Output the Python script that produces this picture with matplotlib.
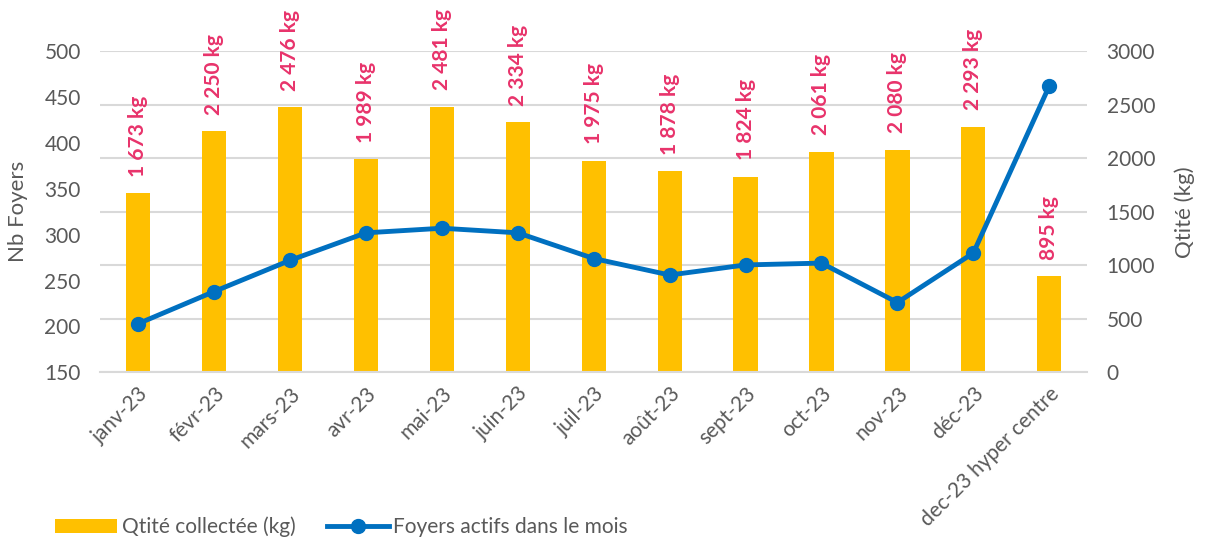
import matplotlib.pyplot as plt
import numpy as np

# données
mois = ["janv-23", "févr-23", "mars-23", "avr-23", "mai-23", "juin-23", "juil-23",
        "août-23", "sept-23", "oct-23", "nov-23", "déc-23", "dec-23 hyper centre"]
qtite_kg = [1673, 2250, 2476, 1989, 2481, 2334, 1975, 1878, 1824, 2061, 2080, 2293, 895]
foyers = [203, 238, 272, 302, 307, 302, 274, 256, 267, 269, 226, 280, 462]

plt.rcParams["font.family"] = ["Lato", "DejaVu Sans"]

jaune = "#FFC000"
bleu = "#0070C0"
rose = "#E8336B"
gris = "#595959"

fig = plt.figure(figsize=(12.08, 5.45), dpi=100)
ax = fig.add_axes([0.083, 0.317, 0.817, 0.589])
ax2 = ax.twinx()

x = np.arange(len(mois))

# barres sur l'axe droit
ax2.bar(x, qtite_kg, width=0.32, color=jaune, zorder=2, label="Qtité collectée (kg)")
for xi, v in zip(x, qtite_kg):
    txt = f"{v:,}".replace(",", " ") + " kg"
    ax2.annotate(txt, (xi, v), xytext=(0, 12), textcoords="offset points",
                 rotation=90, ha="center", va="bottom", color=rose,
                 fontsize=15, fontweight="bold")
ax2.set_ylim(0, 3000)
ax2.set_yticks(range(0, 3001, 500))
ax2.set_ylabel("Qtité (kg)", fontsize=16, color=gris, labelpad=14)

# ligne sur l'axe gauche (dessinée au-dessus)
ax.set_zorder(ax2.get_zorder() + 1)
ax.patch.set_visible(False)
ax.plot(x, foyers, color=bleu, lw=3.5, marker="o", ms=10, zorder=3,
        label="Foyers actifs dans le mois")
ax.set_ylim(150, 500)
ax.set_yticks(range(150, 501, 50))
ax.set_ylabel("Nb Foyers", fontsize=16, color=gris, labelpad=12)
ax.set_xlim(-0.5, len(mois) - 0.5)
ax.set_xticks(x)
ax.set_xticklabels(mois, rotation=45, ha="right", rotation_mode="anchor")

# grille sur l'axe des barres
ax2.grid(axis="y", color="#D9D9D9", lw=1.5, zorder=0)
ax2.set_axisbelow(True)

for a in (ax, ax2):
    for s in a.spines.values():
        s.set_visible(False)
    a.tick_params(length=0, labelsize=15, colors=gris)
ax2.spines["bottom"].set_visible(True)
ax2.spines["bottom"].set_color("#D9D9D9")
ax2.spines["bottom"].set_linewidth(1.5)
ax.tick_params(axis="x", pad=8)
ax.tick_params(axis="y", pad=14)
ax2.tick_params(axis="y", pad=14)

h1, l1 = ax2.get_legend_handles_labels()
h2, l2 = ax.get_legend_handles_labels()
fig.legend(h1 + h2, l1 + l2, loc="lower left", bbox_to_anchor=(0.03, -0.02),
           ncol=2, frameon=False, fontsize=15, labelcolor=gris,
           handlelength=3.0, handletextpad=0.2, columnspacing=1.5)

fig.savefig("out.png", dpi=100)
